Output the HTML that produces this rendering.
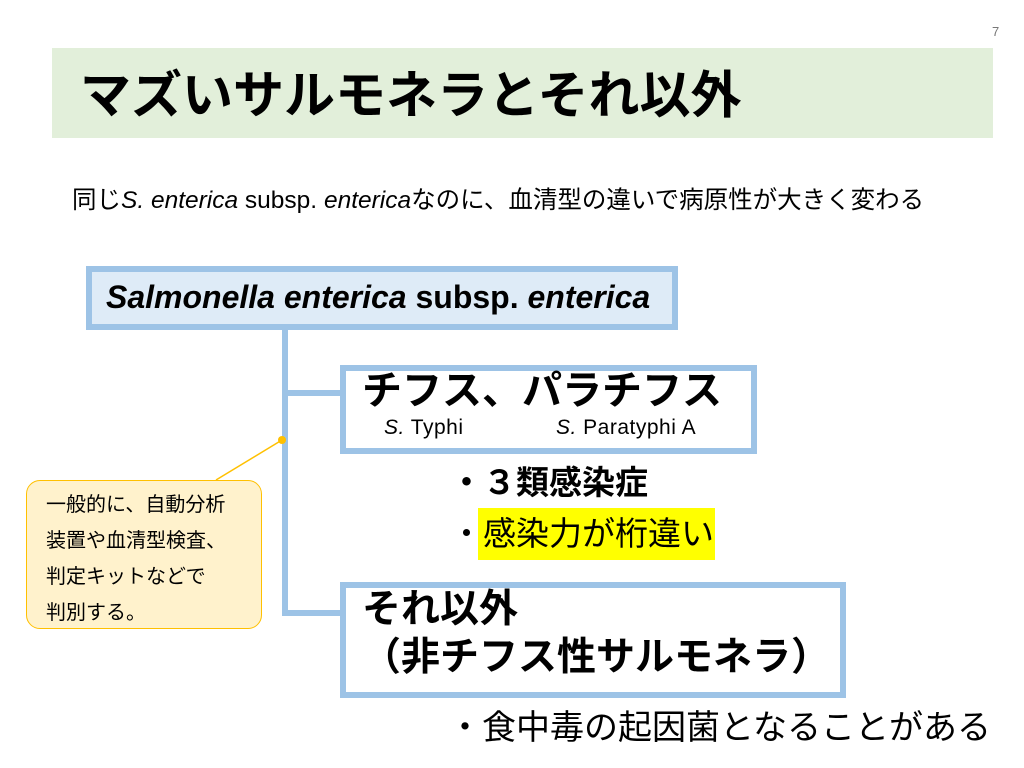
<!DOCTYPE html>
<html><head><meta charset="utf-8"><style>
body{margin:0;width:1024px;height:768px;background:#fff;position:relative;overflow:hidden;font-family:"Liberation Sans","Noto Sans CJK JP",sans-serif;color:#000}
.a{position:absolute;white-space:nowrap}
.box{position:absolute;box-sizing:border-box;border:6px solid #9dc3e6;background:#fff}
.b{font-weight:bold}
</style></head><body>
<div class="a" style="left:992px;top:24px;font-size:13px;color:#777">7</div>
<div class="a" style="left:52px;top:48px;width:941px;height:90px;background:#e2efda"></div>
<div class="a b" style="left:80px;top:64px;font-size:51px;line-height:64px">マズいサルモネラとそれ以外</div>
<div class="a" style="left:72px;top:185px;font-size:24.5px;line-height:32px">同じ<i>S. enterica</i> subsp. <i>enterica</i>なのに、血清型の違いで病原性が大きく変わる</div>

<div class="a" style="left:282px;top:328px;width:6px;height:288px;background:#9dc3e6"></div>
<div class="a" style="left:282px;top:390px;width:62px;height:6px;background:#9dc3e6"></div>
<div class="a" style="left:282px;top:610px;width:62px;height:6px;background:#9dc3e6"></div>

<div class="box" style="left:86px;top:266px;width:592px;height:64px;background:#deebf7"></div>
<div class="a b" style="left:106px;top:276px;font-size:32px;line-height:42px"><i>Salmonella enterica</i> subsp. <i>enterica</i></div>

<div class="box" style="left:340px;top:365px;width:417px;height:89px"></div>
<div class="a b" style="left:362px;top:366px;font-size:40px;line-height:50px">チフス、パラチフス</div>
<div class="a" style="left:384px;top:415px;font-size:21px;line-height:26px;letter-spacing:0.5px"><i>S.</i> Typhi</div>
<div class="a" style="left:556px;top:415px;font-size:21px;line-height:26px;letter-spacing:0.5px"><i>S.</i> Paratyphi A</div>

<div class="a b" style="left:450px;top:462px;font-size:33px;line-height:42px">・３類感染症</div>
<div class="a" style="left:478px;top:508px;width:237px;height:52px;background:#ffff00"></div>
<div class="a" style="left:450px;top:513px;font-size:33px;line-height:42px">・感染力が桁違い</div>

<div class="box" style="left:340px;top:582px;width:506px;height:116px"></div>
<div class="a b" style="left:362px;top:586px;font-size:39px;line-height:48px">それ以外<br>（非チフス性サルモネラ）</div>

<div class="a" style="left:448px;top:706px;font-size:34px;line-height:44px">・食中毒の起因菌となることがある</div>

<svg class="a" style="left:0;top:0" width="1024" height="768"><line x1="216" y1="480" x2="282" y2="440" stroke="#ffc000" stroke-width="1.5"/><circle cx="282" cy="440" r="4" fill="#ffc000"/></svg>
<div class="a" style="left:26px;top:480px;width:236px;height:149px;box-sizing:border-box;border:1.5px solid #ffc000;border-radius:14px;background:#fff2cc"></div>
<div class="a" style="left:46px;top:487px;font-size:20px;line-height:36px">一般的に、自動分析<br>装置や血清型検査、<br>判定キットなどで<br>判別する。</div>
</body></html>
